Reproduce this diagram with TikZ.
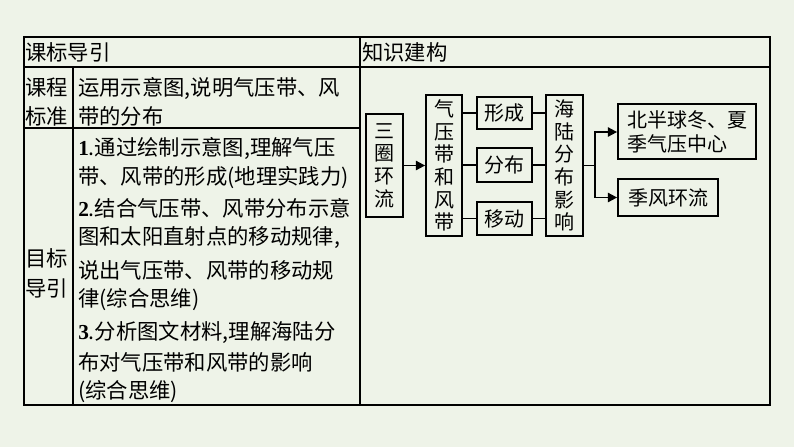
\documentclass[tikz,border=0pt]{standalone}
\usepackage{fontspec}
\setmainfont{Noto Sans CJK SC}
\newfontfamily\numf{Liberation Serif}
\usetikzlibrary{arrows.meta}
\definecolor{bgc}{HTML}{EEF3E8}
\tikzset{
 box/.style={draw,line width=1.3pt,fill=bgc,inner sep=0pt,font=\fontsize{15}{18}\selectfont},
 vbox/.style={box,align=center,font=\fontsize{15}{17}\selectfont},
 conn/.style={line width=1.3pt},
 arr/.style={conn,-{Triangle[length=7pt,width=7pt]}},
 grid/.style={line width=1.1pt},
 txt/.style={anchor=west,inner sep=0pt,font=\fontsize{16}{18}\selectfont}
}
\newcommand{\nb}[1]{{\numf\bfseries #1}}
\begin{document}
\begin{tikzpicture}[x=0.75pt,y=-0.75pt]
\fill[bgc] (0,0) rectangle (794,447);
\useasboundingbox (0,0) rectangle (794,447);
% table
\draw[grid] (24,37) rectangle (770,405);
\draw[grid] (24,67) -- (770,67);
\draw[grid] (360,37) -- (360,405);
\draw[grid] (73,67) -- (73,405);
\draw[grid] (24,128) -- (360,128);
\node[txt] (h1) at (25,52) {课标导引};
\node[txt] (h2) at (362,52) {知识建构};
\node[txt] (k1) at (25,88) {课程};
\node[txt] (k2) at (25,116) {标准};
\node[txt] (m1) at (25,258) {目标};
\node[txt] (m2) at (25,288) {导引};
\node[txt] (s1) at (78,88) {运用示意图,说明气压带、风};
\node[txt] (s2) at (78,116) {带的分布};
\node[txt] (t1) at (78,148) {\nb{1}.通过绘制示意图,理解气压};
\node[txt] (t2) at (78,178) {带、风带的形成(地理实践力)};
\node[txt] (t3) at (78,208) {\nb{2}.结合气压带、风带分布示意};
\node[txt] (t4) at (78,238) {图和太阳直射点的移动规律,};
\node[txt] (t5) at (78,270) {说出气压带、风带的移动规};
\node[txt] (t6) at (78,300) {律(综合思维)};
\node[txt] (t7) at (78,332) {\nb{3}.分析图文材料,理解海陆分};
\node[txt] (t8) at (78,362) {布对气压带和风带的影响};
\node[txt] (t9) at (78,392) {(综合思维)};
% diagram
\node[vbox,minimum width=37*0.75pt,minimum height=103*0.75pt] (a) at (384.5,165.5) {三\\圈\\环\\流};
\node[vbox,minimum width=36*0.75pt,minimum height=141*0.75pt] (b) at (444,165.5) {气\\压\\带\\和\\风\\带};
\node[box,minimum width=55*0.75pt,minimum height=32*0.75pt] (c1) at (504.5,113) {形成};
\node[box,minimum width=55*0.75pt,minimum height=34*0.75pt] (c2) at (504.5,165) {分布};
\node[box,minimum width=55*0.75pt,minimum height=33*0.75pt] (c3) at (504.5,218.5) {移动};
\node[vbox,minimum width=37*0.75pt,minimum height=141*0.75pt] (d) at (564.5,165.5) {海\\陆\\分\\布\\影\\响};
\node[box,align=left,minimum width=138*0.75pt,minimum height=55*0.75pt] (e1) at (687,131.5) {北半球冬、夏\\季气压中心};
\node[box,minimum width=100*0.75pt,minimum height=37*0.75pt] (e2) at (668,197.5) {季风环流};
\draw[arr] (a.east) -- (b.west);
\foreach \c in {c1,c2,c3}{
 \draw[conn] (b.east |- \c.west) -- (\c.west);
 \draw[conn] (\c.east) -- (d.west |- \c.east);
}
\coordinate (j) at (595,165.5);
\draw[conn] (d.east) -- (j);
\draw[arr] (j) |- (e1.west |- 0,132);
\draw[arr] (j) |- (e2.west);
\end{tikzpicture}
\end{document}
